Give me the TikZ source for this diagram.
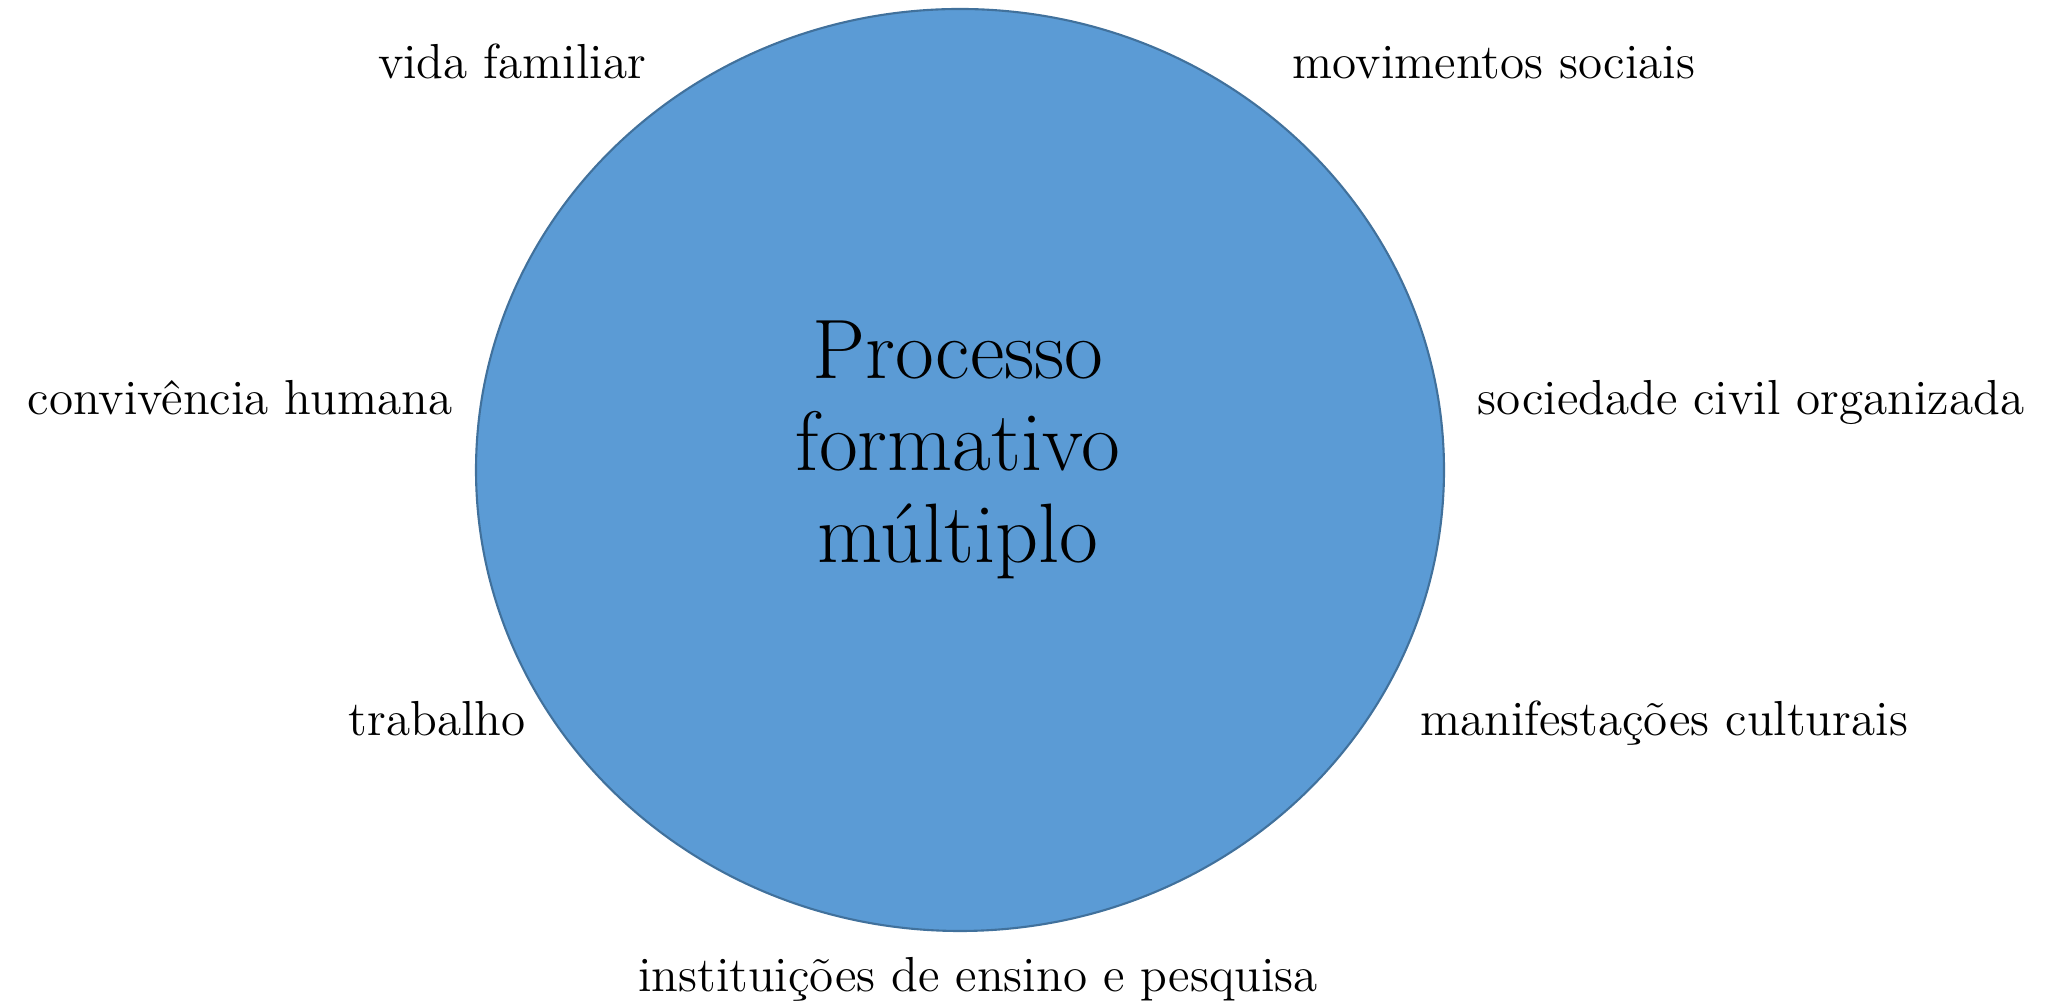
\documentclass[tikz,border=0pt]{standalone}
\usepackage{fontspec}
\definecolor{fillblue}{HTML}{5B9BD5}
\definecolor{edgeblue}{HTML}{41719C}
\tikzset{
  lbl/.style={anchor=base, inner sep=0pt, font=\fontsize{14}{17}\selectfont},
  ctr/.style={align=center, inner sep=0pt, font=\fontsize{24}{26.2}\selectfont}
}
\begin{document}
\begin{tikzpicture}
\useasboundingbox (0,0) rectangle (20.52,10.02);
\draw[fill=fillblue, draw=edgeblue, line width=0.6pt] (9.60,5.32) ellipse [x radius=4.84, y radius=4.61];
\node[ctr, anchor=base] (pf) at (9.58,4.39) {Processo\\formativo\\múltiplo};
\node[lbl] (vf) at (5.12,9.23) {vida familiar};
\node[lbl] (ms) at (14.94,9.23) {movimentos sociais};
\node[lbl] (ch) at (2.40,5.87) {convivência humana};
\node[lbl] (sc) at (17.51,5.87) {sociedade civil organizada};
\node[lbl] (tr) at (4.37,2.66) {trabalho};
\node[lbl] (mc) at (16.64,2.66) {manifestações culturais};
\node[lbl] (ie) at (9.78,0.10) {instituições de ensino e pesquisa};
\end{tikzpicture}
\end{document}
